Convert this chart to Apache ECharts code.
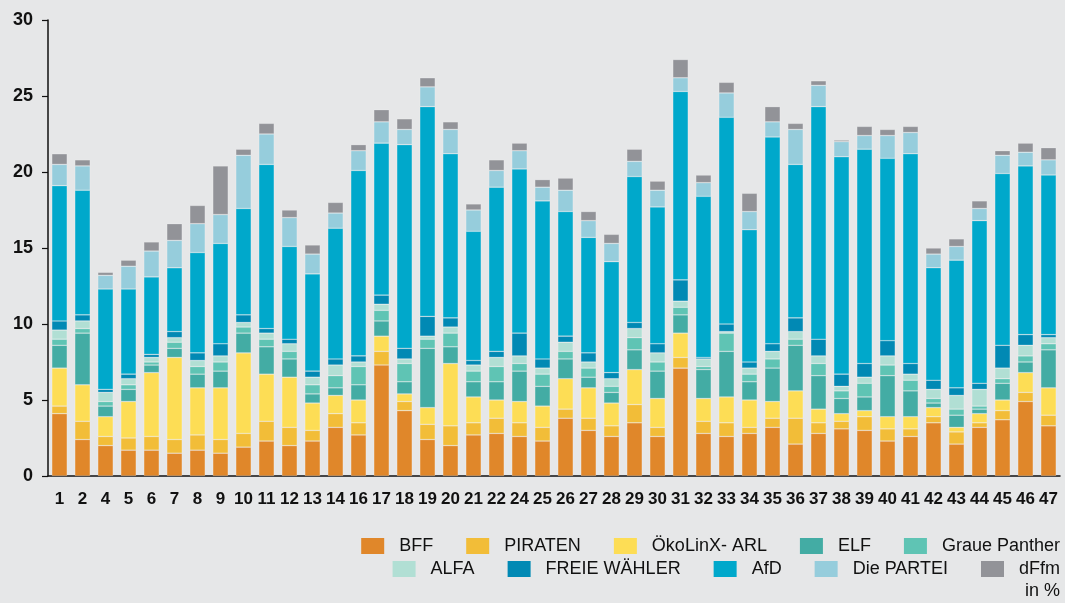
<!DOCTYPE html>
<html>
<head>
<meta charset="utf-8">
<script src="https://cdn.jsdelivr.net/npm/echarts@6/dist/echarts.min.js"></script>
<style>
html,body{margin:0;padding:0;background:#e6e7e8;}
#chart{width:1065px;height:603px;}
</style>
</head>
<body>
<div id="chart"></div>
<script>
const categories = ['1','2','4','5','6','7','8','9','10','11','12','13','14','16','17','18','19','20','21','22','24','25','26','27','28','29','30','31','32','33','34','35','36','37','38','39','40','41','42','43','44','45','46','47'];

const bff     = [4.1,2.4,2.0,1.7,1.7,1.5,1.7,1.5,1.9,2.3,2.0,2.3,3.2,2.7,7.3,4.3,2.4,2.0,2.7,2.8,2.6,2.3,3.8,3.0,2.6,3.5,2.6,7.1,2.8,2.6,2.8,3.2,2.1,2.8,3.1,3.0,2.3,2.6,3.5,2.1,3.2,3.7,4.9,3.3];
const piraten = [0.5,1.2,0.6,0.8,0.9,0.9,1.0,0.9,0.9,1.3,1.2,0.7,0.9,0.8,0.9,0.6,1.0,1.3,0.8,1.0,0.9,0.9,0.6,0.8,0.7,1.2,0.6,0.7,0.8,0.9,0.4,0.6,1.7,0.7,0.5,0.9,0.8,0.5,0.4,0.8,0.3,0.6,0.6,0.7];
const oeko     = [2.5,2.4,1.3,2.4,4.2,5.4,3.1,3.4,5.3,3.1,3.3,1.8,1.2,1.5,1.0,0.5,1.1,4.1,1.7,1.2,1.4,1.4,2.0,2.0,1.5,2.3,1.9,1.6,1.5,1.7,1.8,1.1,1.8,0.9,0.5,0.4,0.8,0.8,0.6,0.3,0.6,0.7,1.3,1.8];
const elf      = [1.5,3.4,0.7,0.8,0.5,0.6,0.9,1.1,1.3,1.8,1.2,0.6,0.5,1.0,1.0,0.8,3.9,1.1,1.0,1.2,2.0,1.3,1.3,0.7,0.7,1.3,1.8,1.2,1.9,3.0,1.2,2.2,3.0,2.2,1.0,0.9,2.7,1.7,0.3,0.8,0.3,1.1,0.7,2.5];
const graue    = [0.4,0.3,0.3,0.3,0.2,0.4,0.5,0.6,0.4,0.5,0.5,0.6,0.8,1.2,0.7,1.2,0.6,0.9,0.7,1.0,0.5,0.8,0.5,0.6,0.4,0.8,0.6,0.5,0.2,1.2,0.5,0.6,0.4,0.8,0.5,0.9,0.7,0.7,0.3,0.4,0.2,0.3,0.4,0.4];
const alfa     = [0.6,0.5,0.6,0.4,0.3,0.3,0.4,0.4,0.3,0.4,0.5,0.5,0.7,0.3,0.4,0.3,0.2,0.4,0.4,0.6,0.5,0.4,0.6,0.4,0.5,0.6,0.6,0.4,0.5,0.1,0.4,0.5,0.5,0.5,0.3,0.4,0.6,0.4,0.6,0.9,1.1,0.7,0.7,0.4];
const freie    = [0.6,0.4,0.2,0.3,0.2,0.4,0.5,0.8,0.5,0.3,0.3,0.4,0.4,0.4,0.6,0.7,1.3,0.6,0.3,0.4,1.5,0.6,0.4,0.6,0.4,0.4,0.6,1.4,0.1,0.5,0.4,0.5,0.9,1.1,0.8,0.9,1.0,0.7,0.6,0.5,0.4,1.5,0.7,0.2];
const afd      = [8.9,8.2,6.6,5.6,5.1,4.2,6.6,6.6,7.0,10.8,6.1,6.4,8.6,12.2,10.0,13.4,13.8,10.8,8.5,10.8,10.8,10.4,8.2,7.6,7.3,9.6,9.0,12.4,10.6,13.6,8.7,13.6,10.1,15.3,14.3,14.1,12.0,13.8,7.4,8.4,10.7,11.3,11.1,10.5];
const partei   = [1.4,1.6,0.9,1.5,1.7,1.8,1.9,1.9,3.5,2.0,1.9,1.3,1.0,1.3,1.4,1.0,1.3,1.6,1.4,1.1,1.2,0.9,1.4,1.1,1.2,1.0,1.1,0.9,0.9,1.6,1.2,1.0,2.3,1.4,1.0,0.9,1.5,1.4,0.9,0.9,0.8,1.2,0.9,1.0];
const dffm     = [0.7,0.4,0.2,0.4,0.6,1.1,1.2,3.2,0.4,0.7,0.5,0.6,0.7,0.4,0.8,0.7,0.6,0.5,0.4,0.7,0.5,0.5,0.8,0.6,0.6,0.8,0.6,1.2,0.5,0.7,1.2,1.0,0.4,0.3,0.1,0.6,0.4,0.4,0.4,0.5,0.5,0.3,0.6,0.8];

const yTicks = [0,5,10,15,20,25,30];

const seriesDefs = [
  {name:'BFF', data:bff, color:'#e0872a'},
  {name:'PIRATEN', data:piraten, color:'#f2bd38'},
  {name:'ÖkoLinX- ARL', data:oeko, color:'#fddd55'},
  {name:'ELF', data:elf, color:'#43aca4'},
  {name:'Graue Panther', data:graue, color:'#5fc4b4'},
  {name:'ALFA', data:alfa, color:'#b1dfd4'},
  {name:'FREIE WÄHLER', data:freie, color:'#0189b4'},
  {name:'AfD', data:afd, color:'#00a8cb'},
  {name:'Die PARTEI', data:partei, color:'#96cddc'},
  {name:'dFfm', data:dffm, color:'#929398'}
];

const FONT = '"Liberation Sans", Arial, sans-serif';
const chart = echarts.init(document.getElementById('chart'), null, {renderer:'canvas'});

const legendCommon = {
  orient:'horizontal', right:5, padding:0,
  itemWidth:23, itemHeight:16, itemGap:33,
  icon:'rect',
  itemStyle:{borderWidth:0},
  textStyle:{fontFamily:FONT, fontSize:18, color:'#111', padding:[0,0,0,10]}
};

chart.setOption({
  backgroundColor:'#e6e7e8',
  animation:false,
  grid:{left:48, right:5, top:20, bottom:127, containLabel:false},
  legend:[
    Object.assign({}, legendCommon, {top:537, data:seriesDefs.slice(0,5).map(s=>s.name)}),
    Object.assign({}, legendCommon, {top:560, data:seriesDefs.slice(5).map(s=>s.name)})
  ],
  graphic:[{
    type:'text', right:5, top:582,
    style:{text:'in %', font:'18px ' + FONT, fill:'#111'}
  }],
  xAxis:{
    type:'category', data:categories,
    axisLine:{show:true, lineStyle:{color:'#111', width:1.5}},
    axisTick:{show:false},
    axisLabel:{fontFamily:FONT, fontSize:17, fontWeight:'bold', color:'#111', margin:15, interval:0}
  },
  yAxis:{
    type:'value', min:yTicks[0], max:yTicks[yTicks.length-1], interval:5,
    axisLine:{show:true, lineStyle:{color:'#111', width:1.5}},
    axisTick:{show:true, length:6, lineStyle:{color:'#111', width:1.2}},
    splitLine:{show:false},
    axisLabel:{fontFamily:FONT, fontSize:18, fontWeight:'bold', color:'#111', margin:15}
  },
  series: seriesDefs.map(s=>({
    name:s.name, type:'bar', stack:'total', data:s.data,
    barCategoryGap:'33%',
    itemStyle:{color:s.color, borderColor:'rgba(255,255,255,0.35)', borderWidth:0.6},
    emphasis:{disabled:true}
  }))
});
</script>
</body>
</html>
